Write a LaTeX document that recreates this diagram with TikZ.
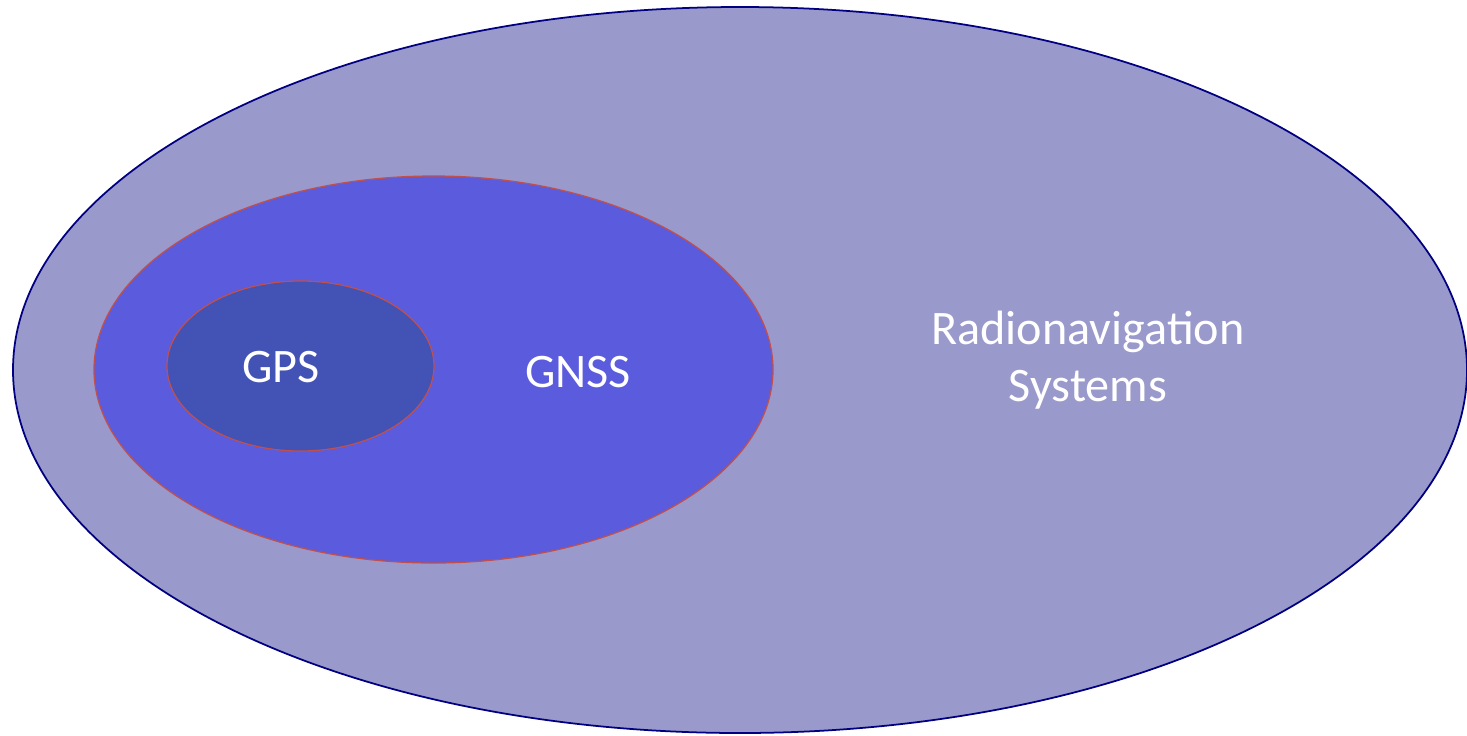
\documentclass[tikz,border=0pt]{standalone}
\usepackage{fontspec}
\setmainfont{Carlito}
\usepackage{tikz}
\usetikzlibrary{shapes,positioning}
\usepackage{xcolor}

\definecolor{radiofill}{HTML}{9999CC}
\definecolor{radioline}{HTML}{000080}
\definecolor{gnssfill}{HTML}{5B5BDE}
\definecolor{gpsfill}{HTML}{4352B5}
\definecolor{setline}{HTML}{C0504D}

\begin{document}
\begin{tikzpicture}[scale=1.0,
    label/.style={text=white, font=\fontsize{13.7}{16.4}\selectfont, align=center}]
    \useasboundingbox (0,0) rectangle (14.67,7.35);

    % Radionavigation systems
    \draw[line width=0.5pt, draw=radioline, fill=radiofill] (7.40,3.65) ellipse (7.27 and 3.63);

    % GNSS
    \draw[line width=0.35pt, draw=setline, fill=gnssfill] (4.335,3.655) ellipse (3.395 and 1.935);

    % GPS
    \draw[line width=0.35pt, draw=setline, fill=gpsfill] (3.005,3.69) ellipse (1.335 and 0.85);

    \node[label] (gps) at (2.81, 3.68) {GPS};
    \node[label] (gnss) at (5.78, 3.63) {GNSS};
    \node[label] (radio) at (10.88, 3.75) {Radionavigation\\Systems};
\end{tikzpicture}
\end{document}
